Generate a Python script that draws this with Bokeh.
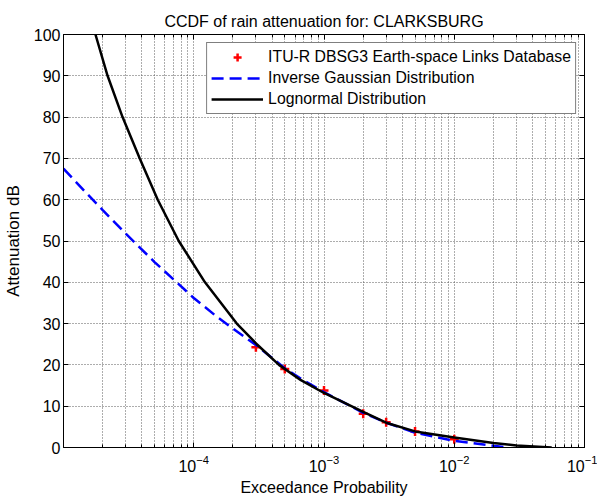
from bokeh.plotting import figure
from bokeh.models import (Legend, LegendItem, LinearAxis, LogAxis, FixedTicker,
                          Range1d, LogTickFormatter, CustomJSTickFormatter)
from bokeh.embed import file_html
from bokeh.resources import INLINE

# Measured exceedance probabilities and attenuations (ITU-R DBSG3 database)
prob_db = [3e-4, 5e-4, 1e-3, 2e-3, 3e-3, 5e-3, 1e-2]
att_db = [24.3, 19.0, 13.8, 8.2, 6.1, 3.9, 2.0]

# Fitted inverse Gaussian CCDF
prob_ig = [1.0e-5, 1.5e-5, 2.0e-5, 3.0e-5, 5.0e-5, 7.0e-5, 1.0e-4, 1.5e-4,
           2.0e-4, 3.0e-4, 5.0e-4, 7.0e-4, 1.0e-3, 2.0e-3, 3.0e-3, 5.0e-3,
           1.0e-2, 2.0e-2, 2.65e-2]
att_ig = [67.5, 61.6, 57.5, 51.8, 44.9, 40.7, 36.2, 31.7,
          28.8, 24.8, 19.2, 16.2, 13.4, 8.4, 6.0, 3.6,
          1.6, 0.4, 0.0]

# Fitted lognormal CCDF
prob_ln = [1.76e-5, 2.18e-5, 2.84e-5, 3.85e-5, 5.29e-5, 7.67e-5, 1.22e-4, 2.14e-4,
           3.05e-4, 4.51e-4, 6.65e-4, 1.0e-3, 2.0e-3, 3.0e-3, 5.0e-3, 1.0e-2,
           2.0e-2, 3.0e-2, 5.6e-2]
att_ln = [100, 90, 80, 70, 60, 50, 40, 30,
          25.0, 20, 16.3, 13.2, 8.6, 6.0, 3.9, 2.4,
          1.1, 0.5, 0.0]

x_major = [1e-4, 1e-3, 1e-2, 1e-1]
x_minor = [k * 10.0 ** e for e in range(-5, -1) for k in range(2, 10)]
y_major = list(range(0, 101, 10))

FONT = "Liberation Sans"

p = figure(width=597, height=501, x_axis_type="log",
           x_range=Range1d(1e-5, 1e-1), y_range=Range1d(0, 100),
           output_backend="svg", toolbar_location=None,
           min_border_left=63, min_border_right=13,
           min_border_top=34, min_border_bottom=54,
           x_axis_label="Exceedance Probability", y_axis_label="Attenuation dB")

p.background_fill_color = "white"
p.border_fill_color = "white"
p.outline_line_color = "black"

p.title.text = "CCDF of rain attenuation for: CLARKSBURG"
p.title.align = "center"
p.title.text_font = FONT
p.title.text_font_size = "16px"
p.title.text_font_style = "normal"
p.title.text_color = "black"

xt = FixedTicker(ticks=x_major, minor_ticks=x_minor)
yt = FixedTicker(ticks=y_major, minor_ticks=[])

for ax in p.xaxis:
    ax.ticker = xt
    ax.formatter = LogTickFormatter()
for ax in p.yaxis:
    ax.ticker = yt

# Extra axes on top and right carry the inward ticks of the box
blank = CustomJSTickFormatter(code="return ''")
top_ax = LogAxis(ticker=xt, formatter=blank, major_label_standoff=0)
right_ax = LinearAxis(ticker=yt, formatter=blank, major_label_standoff=0)
p.add_layout(top_ax, "above")
p.add_layout(right_ax, "right")

for ax in p.axis:
    ax.major_tick_in = 5
    ax.major_tick_out = 0
    ax.minor_tick_in = 3
    ax.minor_tick_out = 0
    ax.axis_line_color = "black"
    ax.major_tick_line_color = "black"
    ax.minor_tick_line_color = "black"
    ax.major_label_text_font = FONT
    ax.major_label_text_color = "black"
    ax.major_label_text_font_size = "16px"
    ax.axis_label_text_font = FONT
    ax.axis_label_text_font_style = "normal"
    ax.axis_label_text_font_size = "16px"
    ax.axis_label_text_color = "black"

for ax in p.yaxis:
    ax.minor_tick_line_color = None
    ax.axis_label_standoff = 8
    ax.major_label_standoff = 3
    ax.axis_label_text_font_size = "17px"
right_ax.minor_tick_line_color = None
for ax in p.xaxis:
    ax.major_label_standoff = 7
    ax.axis_label_standoff = 4

GRID = "#5a5a5a"
p.xgrid.grid_line_color = GRID
p.xgrid.grid_line_dash = "1 2"
p.xgrid.minor_grid_line_color = GRID
p.xgrid.minor_grid_line_dash = "1 2"
p.ygrid.grid_line_color = GRID
p.ygrid.grid_line_dash = "1 2"

r_db = p.scatter(prob_db, att_db, marker="cross", size=9, line_width=2.5,
                 color="red")
r_ig = p.line(prob_ig, att_ig, line_color="blue", line_width=2.5,
              line_dash="12 6")
r_ln = p.line(prob_ln, att_ln, line_color="black", line_width=2.5)

legend = Legend(items=[
    LegendItem(label="ITU-R DBSG3 Earth-space Links Database", renderers=[r_db]),
    LegendItem(label="Inverse Gaussian Distribution", renderers=[r_ig]),
    LegendItem(label="Lognormal Distribution", renderers=[r_ln]),
], location="top_right")
legend.border_line_color = "black"
legend.border_line_width = 1
legend.background_fill_color = "white"
legend.background_fill_alpha = 1.0
legend.glyph_width = 52
legend.glyph_height = 20
legend.label_standoff = 5
legend.padding = 4
legend.spacing = 1
legend.margin = 8
legend.label_text_font = FONT
legend.label_text_font_size = "15.8px"
legend.label_text_color = "black"
legend.label_height = 20
p.add_layout(legend)

open("out.html", "w").write(file_html(p, INLINE))
